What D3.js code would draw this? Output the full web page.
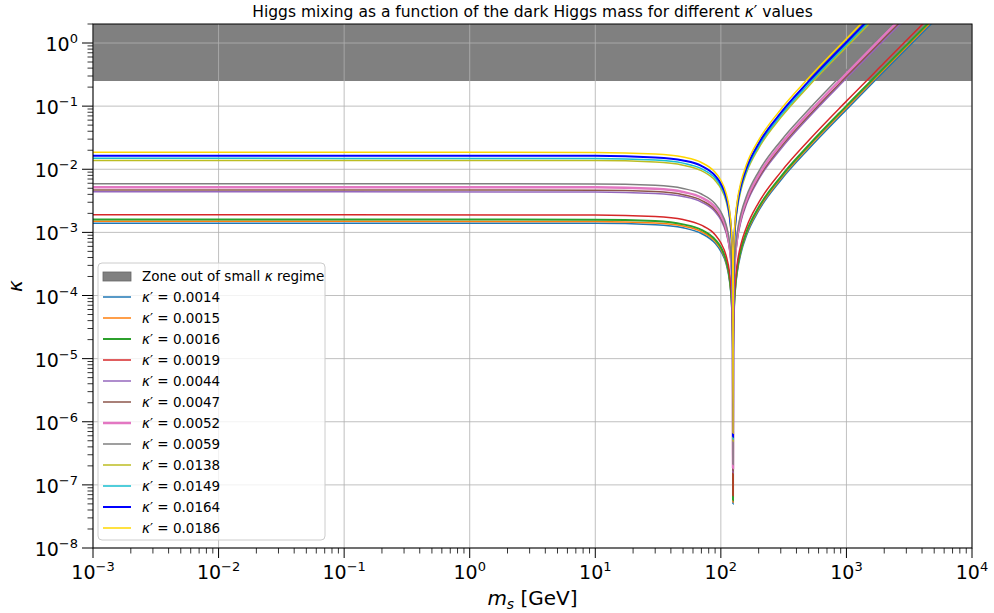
<!DOCTYPE html>
<html>
<head>
<meta charset="utf-8">
<script src="https://cdn.jsdelivr.net/npm/d3@7"></script>
<style>
  body { margin: 0; background: #fff; }
  svg { font-family: "DejaVu Sans", sans-serif; }
</style>
</head>
<body>
<svg id="chart" width="994" height="613"></svg>
<script>
// dark Higgs mass values (GeV) where the curves were read
var masses = [0.001, 10, 30, 50, 70, 90, 100, 110, 117, 121, 123, 124.5, 125,
              125.5, 127, 130, 135, 145, 160, 200, 300, 500, 1000, 2000, 5000];

var kappaPrimes = ["0.0014", "0.0015", "0.0016", "0.0019", "0.0044", "0.0047",
                   "0.0052", "0.0059", "0.0138", "0.0149", "0.0164", "0.0186"];

var k0014 = [1.4e-3, 1.39e-3, 1.32e-3, 1.18e-3, 9.6e-4, 6.7e-4, 5.0e-4, 3.2e-4, 1.74e-4, 8.8e-5, 4.4e-5, 1.12e-5, 5.0e-8,
             1.12e-5, 4.5e-5, 1.14e-4, 2.3e-4, 4.8e-4, 8.9e-4, 2.2e-3, 6.7e-3, 0.021, 0.088, 0.357, 2.24];
var k0015 = [1.5e-3, 1.49e-3, 1.41e-3, 1.26e-3, 1.03e-3, 7.2e-4, 5.4e-4, 3.4e-4, 1.86e-4, 9.5e-5, 4.8e-5, 1.2e-5, 5.3e-8,
             1.2e-5, 4.8e-5, 1.22e-4, 2.5e-4, 5.2e-4, 9.6e-4, 2.34e-3, 7.1e-3, 0.0225, 0.0945, 0.383, 2.4];
var k0016 = [1.6e-3, 1.59e-3, 1.51e-3, 1.34e-3, 1.1e-3, 7.7e-4, 5.8e-4, 3.6e-4, 1.98e-4, 1.01e-4, 5.1e-5, 1.28e-5, 5.7e-8,
             1.28e-5, 5.2e-5, 1.31e-4, 2.66e-4, 5.5e-4, 1.02e-3, 2.5e-3, 7.6e-3, 0.024, 0.101, 0.408, 2.56];
var k0019 = [1.9e-3, 1.89e-3, 1.79e-3, 1.6e-3, 1.3e-3, 9.2e-4, 6.8e-4, 4.3e-4, 2.36e-4, 1.2e-4, 6.0e-5, 1.52e-5, 6.7e-8,
             1.52e-5, 6.1e-5, 1.55e-4, 3.2e-4, 6.6e-4, 1.21e-3, 2.96e-3, 9.0e-3, 0.0285, 0.12, 0.485, 3.04];
var k0044 = [4.4e-3, 4.37e-3, 4.14e-3, 3.7e-3, 3.02e-3, 2.12e-3, 1.58e-3, 9.9e-4, 5.5e-4, 2.8e-4, 1.39e-4, 3.5e-5, 1.56e-7,
             3.5e-5, 1.42e-4, 3.6e-4, 7.3e-4, 1.52e-3, 2.81e-3, 6.9e-3, 0.0209, 0.066, 0.277, 1.12, 7.0];
var k0047 = [4.7e-3, 4.67e-3, 4.43e-3, 3.95e-3, 3.22e-3, 2.27e-3, 1.69e-3, 1.06e-3, 5.8e-4, 3.0e-4, 1.49e-4, 3.8e-5, 1.67e-7,
             3.8e-5, 1.52e-4, 3.8e-4, 7.8e-4, 1.63e-3, 3.0e-3, 7.3e-3, 0.0224, 0.0705, 0.296, 1.2, 7.5];
var k0052 = [5.2e-3, 5.17e-3, 4.9e-3, 4.37e-3, 3.57e-3, 2.51e-3, 1.87e-3, 1.18e-3, 6.4e-4, 3.3e-4, 1.65e-4, 4.2e-5, 1.85e-7,
             4.2e-5, 1.68e-4, 4.2e-4, 8.6e-4, 1.8e-3, 3.32e-3, 8.1e-3, 0.0248, 0.078, 0.328, 1.33, 8.3];
var k0059 = [5.9e-3, 5.86e-3, 5.56e-3, 4.96e-3, 4.05e-3, 2.84e-3, 2.12e-3, 1.33e-3, 7.3e-4, 3.7e-4, 1.87e-4, 4.7e-5, 2.1e-7,
             4.7e-5, 1.91e-4, 4.8e-4, 9.8e-4, 2.04e-3, 3.76e-3, 9.2e-3, 0.0281, 0.0885, 0.372, 1.5, 9.4];
var k0138 = [0.0138, 0.0137, 0.013, 0.0116, 9.5e-3, 6.65e-3, 4.97e-3, 3.12e-3, 1.71e-3, 8.7e-4, 4.37e-4, 1.1e-4, 4.9e-7,
             1.1e-4, 4.46e-4, 1.13e-3, 2.29e-3, 4.77e-3, 8.8e-3, 0.0215, 0.0657, 0.207, 0.869, 3.52, 22];
var k0149 = [0.0149, 0.0148, 0.014, 0.0125, 0.0102, 7.2e-3, 5.36e-3, 3.37e-3, 1.85e-3, 9.4e-4, 4.72e-4, 1.19e-4, 5.3e-7,
             1.19e-4, 4.81e-4, 1.22e-3, 2.47e-3, 5.16e-3, 9.5e-3, 0.0232, 0.0709, 0.224, 0.939, 3.8, 23.8];
var k0164 = [0.0164, 0.0163, 0.0154, 0.0138, 0.0113, 7.9e-3, 5.9e-3, 3.71e-3, 2.03e-3, 1.03e-3, 5.2e-4, 1.31e-4, 5.8e-7,
             1.31e-4, 5.3e-4, 1.34e-3, 2.72e-3, 5.7e-3, 0.0105, 0.0256, 0.0781, 0.246, 1.03, 4.18, 26.2];
var k0186 = [0.0186, 0.0185, 0.0175, 0.0156, 0.0128, 8.97e-3, 6.7e-3, 4.2e-3, 2.31e-3, 1.17e-3, 5.9e-4, 1.49e-4, 6.6e-7,
             1.49e-4, 6.0e-4, 1.52e-3, 3.09e-3, 6.4e-3, 0.0119, 0.029, 0.0885, 0.279, 1.17, 4.74, 29.7];

// zone out of the small kappa regime
var zoneLow = 0.25, zoneHigh = 2;

var xTicks = [1e-3, 1e-2, 1e-1, 1e0, 1e1, 1e2, 1e3, 1e4];
var xExp = ["\u22123", "\u22122", "\u22121", "0", "1", "2", "3", "4"];
var yTicks = [1e-8, 1e-7, 1e-6, 1e-5, 1e-4, 1e-3, 1e-2, 1e-1, 1e0];
var yExp = ["\u22128", "\u22127", "\u22126", "\u22125", "\u22124", "\u22123", "\u22122", "\u22121", "0"];

var allSeries = [k0014, k0015, k0016, k0019, k0044, k0047, k0052, k0059, k0138, k0149, k0164, k0186];
var colors = ["#1f77b4", "#ff7f0e", "#2ca02c", "#d62728", "#9467bd", "#8c564b",
              "#e377c2", "#7f7f7f", "#bcbd22", "#17becf", "#0000ff", "#ffd700"];
var widths = [1.5, 1.5, 2, 1.5, 1.5, 1.5, 2.5, 1.5, 1.5, 1.5, 2, 1.5];

var margin = {top: 24, right: 22, bottom: 65, left: 93};
var width = 994 - margin.left - margin.right,
    height = 613 - margin.top - margin.bottom;

var svg = d3.select("#chart");

var x = d3.scaleLog().domain([1e-3, 1e4]).range([0, width]);
var y = d3.scaleLog().domain([1e-8, zoneHigh]).range([height, 0]);

var g = svg.append("g")
    .attr("transform", "translate(" + margin.left + "," + margin.top + ")");

g.append("clipPath").attr("id", "clip")
  .append("rect").attr("width", width).attr("height", height);

// grey band
g.append("rect")
    .attr("x", 0)
    .attr("y", y(zoneHigh))
    .attr("width", width)
    .attr("height", y(zoneLow) - y(zoneHigh))
    .attr("fill", "#808080");

// grid
g.selectAll(".gx").data(xTicks).enter().append("line")
    .attr("x1", function(d) { return x(d); }).attr("x2", function(d) { return x(d); })
    .attr("y1", 0).attr("y2", height)
    .attr("stroke", "#b0b0b0").attr("stroke-width", 1).attr("stroke-opacity", 0.8);
g.selectAll(".gy").data(yTicks).enter().append("line")
    .attr("x1", 0).attr("x2", width)
    .attr("y1", function(d) { return y(d); }).attr("y2", function(d) { return y(d); })
    .attr("stroke", "#b0b0b0").attr("stroke-width", 1).attr("stroke-opacity", 0.8);

// curves
var line = d3.line()
    .x(function(d) { return x(d[0]); })
    .y(function(d) { return y(d[1]); })
    .curve(d3.curveMonotoneX);

var lines = g.append("g").attr("clip-path", "url(#clip)");
allSeries.forEach(function(s, i) {
    lines.append("path")
        .datum(masses.map(function(m, j) { return [m, s[j]]; }))
        .attr("d", line)
        .attr("fill", "none")
        .attr("stroke", colors[i])
        .attr("stroke-width", widths[i]);
});

// minor ticks
var xMinor = [], yMinor = [];
for (var e = -3; e < 4; e++) {
    for (var k = 2; k < 10; k++) xMinor.push(k * Math.pow(10, e));
}
for (var e2 = -8; e2 <= 0; e2++) {
    for (var k2 = 2; k2 < 10; k2++) {
        var v = k2 * Math.pow(10, e2);
        if (v <= zoneHigh) yMinor.push(v);
    }
}

g.selectAll(".mx").data(xMinor).enter().append("line")
    .attr("x1", function(d) { return x(d); }).attr("x2", function(d) { return x(d); })
    .attr("y1", height).attr("y2", height + 5.5)
    .attr("stroke", "#000").attr("stroke-width", 0.8);
g.selectAll(".my").data(yMinor).enter().append("line")
    .attr("x1", -5.5).attr("x2", 0)
    .attr("y1", function(d) { return y(d); }).attr("y2", function(d) { return y(d); })
    .attr("stroke", "#000").attr("stroke-width", 0.8);

// major ticks
g.selectAll(".tx").data(xTicks).enter().append("line")
    .attr("x1", function(d) { return x(d); }).attr("x2", function(d) { return x(d); })
    .attr("y1", height).attr("y2", height + 10)
    .attr("stroke", "#000").attr("stroke-width", 1);
g.selectAll(".ty").data(yTicks).enter().append("line")
    .attr("x1", -11).attr("x2", 0)
    .attr("y1", function(d) { return y(d); }).attr("y2", function(d) { return y(d); })
    .attr("stroke", "#000").attr("stroke-width", 1);

// tick labels
var xl = g.selectAll(".xl").data(xTicks).enter().append("text")
    .attr("x", function(d) { return x(d); })
    .attr("y", height + 31)
    .attr("text-anchor", "middle")
    .attr("font-size", 19)
    .attr("fill", "#000");
xl.append("tspan").text("10");
xl.append("tspan").attr("dy", -8).attr("font-size", 13).text(function(d, i) { return xExp[i]; });

var yl = g.selectAll(".yl").data(yTicks).enter().append("text")
    .attr("x", -15)
    .attr("y", function(d) { return y(d) + 8; })
    .attr("text-anchor", "end")
    .attr("font-size", 19)
    .attr("fill", "#000");
yl.append("tspan").text("10");
yl.append("tspan").attr("dy", -8).attr("font-size", 13).text(function(d, i) { return yExp[i]; });

// frame
g.append("rect")
    .attr("width", width).attr("height", height)
    .attr("fill", "none").attr("stroke", "#000").attr("stroke-width", 1);

// title and axis labels
svg.append("text")
    .attr("x", margin.left + width / 2).attr("y", 17)
    .attr("text-anchor", "middle").attr("font-size", 15.5)
    .html("Higgs mixing as a function of the dark Higgs mass for different <tspan font-style='italic'>\u03ba</tspan>\u2032 values");

svg.append("text")
    .attr("x", margin.left + width / 2).attr("y", 605)
    .attr("text-anchor", "middle").attr("font-size", 20)
    .html("<tspan font-style='italic'>m</tspan><tspan font-style='italic' font-size='14' dy='4'>s</tspan><tspan dy='-4'> [GeV]</tspan>");

svg.append("text")
    .attr("transform", "translate(22," + (margin.top + height / 2) + ") rotate(-90)")
    .attr("text-anchor", "middle").attr("font-size", 20).attr("font-style", "italic")
    .text("\u03ba");

// legend
var legend = g.append("g").attr("transform", "translate(5,239)");
legend.append("rect")
    .attr("width", 227).attr("height", 277)
    .attr("rx", 4)
    .attr("fill", "#fff").attr("fill-opacity", 0.8)
    .attr("stroke", "#cccccc").attr("stroke-width", 1);

legend.append("rect")
    .attr("x", 5).attr("y", 9).attr("width", 28).attr("height", 9)
    .attr("fill", "#808080").attr("stroke", "#666").attr("stroke-width", 0.8);
legend.append("text")
    .attr("x", 44).attr("y", 18).attr("font-size", 13.5)
    .html("Zone out of small <tspan font-style='italic'>\u03ba</tspan> regime");

kappaPrimes.forEach(function(kp, i) {
    var ly = 13 + 21 * (i + 1);
    legend.append("line")
        .attr("x1", 5).attr("x2", 33)
        .attr("y1", ly).attr("y2", ly)
        .attr("stroke", colors[i]).attr("stroke-width", widths[i]);
    legend.append("text")
        .attr("x", 44).attr("y", ly + 5).attr("font-size", 13.5)
        .html("<tspan font-style='italic'>\u03ba</tspan>\u2032 = " + kp);
});
</script>
</body>
</html>
